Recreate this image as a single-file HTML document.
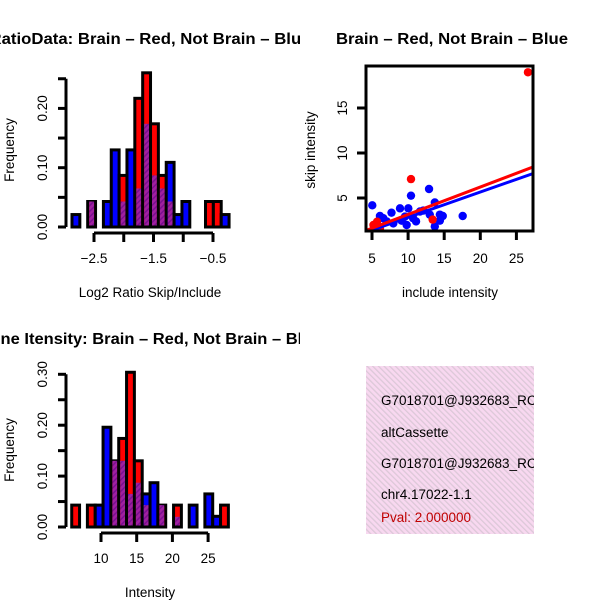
<!DOCTYPE html>
<html><head><meta charset="utf-8"><style>
body{margin:0;background:#fff}
svg{display:block}
text{font-family:"Liberation Sans",sans-serif}
</style></head><body>
<svg id="root" width="600" height="600" xmlns="http://www.w3.org/2000/svg">
<defs>
<pattern id="hatchP" width="4" height="4" patternUnits="userSpaceOnUse" patternTransform="rotate(45)">
<rect width="4" height="4" fill="#a020a0"/><rect width="1.5" height="4" fill="#7a1090"/></pattern>
<pattern id="hatchPink" width="4" height="4" patternUnits="userSpaceOnUse" patternTransform="rotate(-45)">
<rect width="4" height="4" fill="#f8d8f0"/><rect width="1.3" height="4" fill="#dcc8d8"/></pattern>
<clipPath id="clipL1"><rect x="0" y="0" width="300" height="300"/></clipPath>
<clipPath id="clipL2"><rect x="0" y="300" width="300" height="300"/></clipPath>
<clipPath id="clipSc"><rect x="366" y="66" width="167" height="165"/></clipPath>
<clipPath id="clipTx"><rect x="366" y="366" width="168" height="168"/></clipPath>
</defs>
<g id="p1"></g>
<g id="p2"></g>
<g id="p3"></g>
<g id="p4">
<rect x="366" y="366" width="168" height="168" fill="url(#hatchPink)"/>
<g clip-path="url(#clipTx)" font-size="13.5">
<text x="381" y="405">G7018701@J932683_RC</text>
<text x="381" y="437">altCassette</text>
<text x="381" y="468">G7018701@J932683_RC</text>
<text x="381" y="499">chr4.17022-1.1</text>
<text x="381" y="522" fill="#c00000">Pval: 2.000000</text>
</g></g>
</svg>
<script>
// Ratio histogram data
const ratioStart = -2.87;
const ratioBinW = 0.132;
const ratioRed  = [0,0,0.043,0,0,0,0.087,0,0.217,0.26,0.174,0.087,0.043,0,0,0,0,0.043,0.043,0];
const ratioBlue = [0.021,0,0.043,0,0.043,0.13,0.043,0.13,0.065,0.174,0.087,0.065,0.109,0.021,0.043,0,0,0,0,0.021];
const ratioXTicks = [-2.5,-2.0,-1.5,-1.0,-0.5];
const ratioXLabels = ["\u22122.5","","\u22121.5","","\u22120.5"];
const ratioYTicks = [0,0.05,0.10,0.15,0.20,0.25];
const ratioYLabels = ["0.00","","0.10","","0.20",""];
// Intensity histogram data
const intStart = 5.9;
const intBinW = 1.097;
const intRed  = [0.043,0,0.043,0,0,0.13,0.174,0.304,0.13,0.043,0,0.043,0,0.043,0,0,0,0,0,0.043];
const intBlue = [0,0,0,0.043,0.196,0.13,0.13,0.065,0.087,0.065,0.087,0.043,0,0.02,0,0.043,0,0.065,0.021,0];
const intXTicks = [10,15,20,25];
const intXLabels = ["10","15","20","25"];
const intYTicks = [0,0.05,0.10,0.15,0.20,0.25,0.30];
const intYLabels = ["0.00","","0.10","","0.20","","0.30"];
// Scatter data
const blueX = [5.04,6.1,6.57,7.7,7.95,8.88,9.1,10.03,9.8,10.4,10.7,11.1,11.65,12.9,13.7,13.7,14.4,14.8,14.4,17.56,13.0,7.03,12.1,9.57];
const blueY = [4.19,3.0,2.75,3.37,2.18,3.85,2.48,3.85,2.0,5.26,2.75,2.4,3.5,6.0,4.5,1.85,3.15,3.0,2.48,3.0,3.15,2.4,3.6,2.94];
const redX = [26.6,10.4,13.4,5.2,5.7,6.1];
const redY = [18.97,7.1,2.6,2.0,2.37,1.6];
const redLine = [0.305,0.12];   // slope, intercept
const blueLine = [0.282,0.02];
const scXTicks = [5,10,15,20,25];
const scYTicks = [5,10,15];

const NS="http://www.w3.org/2000/svg";
const FS=13.5;
function mk(parent,tag,attrs,txt){const e=document.createElementNS(NS,tag);for(const k in attrs)e.setAttribute(k,attrs[k]);if(txt!==undefined)e.textContent=txt;parent.appendChild(e);return e;}

function hist(g,clip,o){
  const sx=v=>o.x0+(v-o.v0)*o.kx, sy=v=>o.base-v*o.ky;
  const cg=mk(g,'g',{'clip-path':'url(#'+clip+')'});
  for(let i=0;i<o.red.length;i++){
    const r=o.red[i],b=o.blue[i];const mx=Math.max(r,b),mn=Math.min(r,b);
    if(mx<=0)continue;
    const xa=sx(o.start+i*o.bw),xb=sx(o.start+(i+1)*o.bw);
    const bar=mk(cg,'rect',{x:xa,y:sy(mx),width:xb-xa,height:sy(0)-sy(mx),fill:r>=b?'#ff0000':'#0000ff',stroke:'#000','stroke-width':3});
    
    
    if(mn>0){const ov=mk(cg,'rect',{x:xa+1.5,y:sy(mn),width:xb-xa-3,height:sy(0)-sy(mn)-1.5,fill:'url(#hatchP)'});
      
      }
  }
  const ya=mk(g,'g',{});
  
  
  mk(ya,'line',{x1:66,x2:66,y1:sy(o.yt[0]),y2:sy(o.yt[o.yt.length-1]),stroke:'#000','stroke-width':3});
  o.yt.forEach((t,i)=>{mk(ya,'line',{x1:58,x2:66,y1:sy(t),y2:sy(t),stroke:'#000','stroke-width':3});
    if(o.yl[i])mk(ya,'text',{x:47,y:sy(t),'font-size':FS,'text-anchor':'middle',transform:`rotate(-90 47 ${sy(t)})`},o.yl[i]);});
  const xa=mk(g,'g',{});
  
  
  mk(xa,'line',{x1:sx(o.xt[0]),x2:sx(o.xt[o.xt.length-1]),y1:o.axY,y2:o.axY,stroke:'#000','stroke-width':3});
  o.xt.forEach((t,i)=>{mk(xa,'line',{x1:sx(t),x2:sx(t),y1:o.axY,y2:o.axY+9,stroke:'#000','stroke-width':3});
    if(o.xl[i])mk(xa,'text',{x:sx(t),y:o.axY+30,'font-size':FS,'text-anchor':'middle'},o.xl[i]);});
}
const p1=document.getElementById('p1');
hist(p1,'clipL1',{red:ratioRed,blue:ratioBlue,start:ratioStart,bw:ratioBinW,v0:-2.5,x0:94,kx:59.5,base:227,ky:593,xt:ratioXTicks,xl:ratioXLabels,yt:ratioYTicks,yl:ratioYLabels,axY:233});
const t1=mk(p1,'g',{'clip-path':'url(#clipL1)'});
let e=mk(t1,'text',{x:150,y:44,'font-size':16,'font-weight':'bold','text-anchor':'middle',textLength:321,lengthAdjust:'spacingAndGlyphs'},'RatioData: Brain \u2013 Red, Not Brain \u2013 Blue');

e=mk(p1,'text',{x:150,y:297,'font-size':FS,'text-anchor':'middle'},'Log2 Ratio Skip/Include');

e=mk(p1,'text',{x:14,y:150,'font-size':FS,'text-anchor':'middle',transform:'rotate(-90 14 150)'},'Frequency');


const p3=document.getElementById('p3');
hist(p3,'clipL2',{red:intRed,blue:intBlue,start:intStart,bw:intBinW,v0:10,x0:101,kx:7.14,base:527,ky:509,xt:intXTicks,xl:intXLabels,yt:intYTicks,yl:intYLabels,axY:533});
const t3=mk(p3,'g',{'clip-path':'url(#clipL2)'});
e=mk(t3,'text',{x:150,y:344,'font-size':16,'font-weight':'bold','text-anchor':'middle',textLength:343,lengthAdjust:'spacingAndGlyphs'},'Gene Itensity: Brain \u2013 Red, Not Brain \u2013 Blue');

e=mk(p3,'text',{x:150,y:597,'font-size':FS,'text-anchor':'middle'},'Intensity');

e=mk(p3,'text',{x:14,y:450,'font-size':FS,'text-anchor':'middle',transform:'rotate(-90 14 450)'},'Frequency');


const p2=document.getElementById('p2');
const sx2=v=>372+(v-5)*7.22, sy2=v=>198-(v-5)*9;
const cg=mk(p2,'g',{'clip-path':'url(#clipSc)'});
blueX.forEach((x,i)=>{const c=mk(cg,'circle',{cx:sx2(x),cy:sy2(blueY[i]),r:4.2,fill:'#0000ff'});
  });
redX.forEach((x,i)=>{const c=mk(cg,'circle',{cx:sx2(x),cy:sy2(redY[i]),r:4.2,fill:'#ff0000'});
  });
[[blueLine,'#0000ff','blue-fit-line'],[redLine,'#ff0000','red-fit-line']].forEach(([ln,col,nm])=>{
  const l=mk(cg,'line',{x1:sx2(3),y1:sy2(ln[1]+ln[0]*3),x2:sx2(30),y2:sy2(ln[1]+ln[0]*30),stroke:col,'stroke-width':3});
  });
e=mk(p2,'rect',{x:366,y:66,width:167,height:165,fill:'none',stroke:'#000','stroke-width':3});

scXTicks.forEach(t=>{mk(p2,'line',{x1:sx2(t),x2:sx2(t),y1:231,y2:240,stroke:'#000','stroke-width':3});
  mk(p2,'text',{x:sx2(t),y:263,'font-size':FS,'text-anchor':'middle'},String(t));});
scYTicks.forEach(t=>{mk(p2,'line',{x1:357,x2:366,y1:sy2(t),y2:sy2(t),stroke:'#000','stroke-width':3});
  mk(p2,'text',{x:347,y:sy2(t),'font-size':FS,'text-anchor':'middle',transform:`rotate(-90 347 ${sy2(t)})`},String(t));});
e=mk(p2,'text',{x:452,y:44,'font-size':16,'font-weight':'bold','text-anchor':'middle',textLength:232,lengthAdjust:'spacingAndGlyphs'},'Brain \u2013 Red, Not Brain \u2013 Blue');

e=mk(p2,'text',{x:450,y:297,'font-size':FS,'text-anchor':'middle'},'include intensity');

e=mk(p2,'text',{x:315,y:150,'font-size':FS,'text-anchor':'middle',transform:'rotate(-90 315 150)'},'skip intensity');

</script>
</body></html>
